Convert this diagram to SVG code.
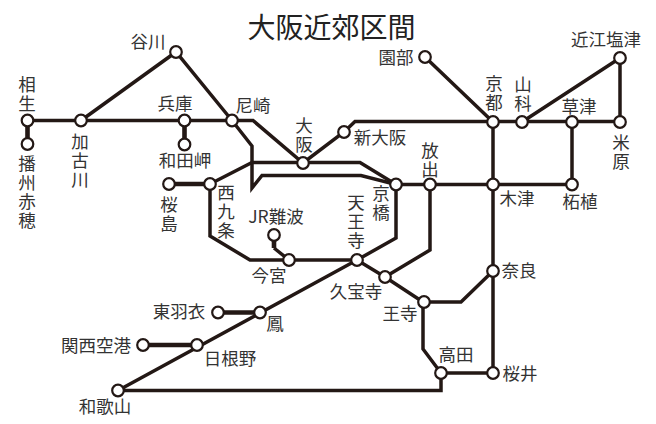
<svg xmlns="http://www.w3.org/2000/svg" width="656" height="424" viewBox="0 0 656 424">
<style>
text{font-family:"Noto Sans CJK JP","Noto Sans",sans-serif;font-size:17.500px;fill:#333;text-anchor:middle}
.v{writing-mode:vertical-rl;text-anchor:start;letter-spacing:1.300px}
.t{font-size:28px;fill:#222}
.l{fill:none;stroke:#231815;stroke-width:3.5;stroke-linejoin:miter}
.b{stroke-width:4.6}
circle{fill:#fff;stroke:#231815;stroke-width:2.2}
</style>
<rect width="656" height="424" fill="#fff"/>
<text class="t" x="331.500" y="38">大阪近郊区間</text>
<g id="connectors">
<path class="l" d="M27.500 120.500H253L303 163L344 132L355 121.500H620V58L522 122"/>
<path class="l" d="M81 120.500L176 52L232 120.500L252 146V188L262 175.500H361L396 184.500H572V122"/>
<path class="l" d="M210 184L252 162.500H360L396 184.500V238L357 260H250L210 236V184"/>
<path class="l" d="M425 57L493 122V373M274 248L289 260"/>
<path class="l" d="M357 260L118 390.500H441V373L423 349V302L385 277L357 260M385 277L430 250V184.500M424 302H461L493 271M441 373H493"/>
<path class="l b" d="M27.500 120.500V144M184.500 120.500V144.500M169 184H210M218 312.500H260M143 345H197M274 235V248"/>
</g>
<g id="n-aioi"><circle cx="27.500" cy="120.500" r="5.800"/><text class="v" x="27" y="76">相生</text></g>
<g id="n-ako"><circle cx="27.500" cy="144" r="5.800"/><text class="v" x="27" y="155">播州赤穂</text></g>
<g id="n-kakogawa"><circle cx="81" cy="120.500" r="5.800"/><text class="v" x="80" y="133">加古川</text></g>
<g id="n-tanigawa"><circle cx="176" cy="52" r="5.800"/><text x="148" y="48">谷川</text></g>
<g id="n-hyogo"><circle cx="184.500" cy="120.500" r="5.800"/><text x="175" y="110">兵庫</text></g>
<g id="n-wadamisaki"><circle cx="184.500" cy="144.500" r="5.800"/><text x="185" y="167">和田岬</text></g>
<g id="n-amagasaki"><circle cx="232" cy="120.500" r="5.800"/><text x="253" y="112">尼崎</text></g>
<g id="n-osaka"><circle cx="303" cy="163" r="5.800"/><text class="v" x="304" y="117">大阪</text></g>
<g id="n-shinosaka"><circle cx="344" cy="132" r="5.800"/><text x="380" y="144">新大阪</text></g>
<g id="n-kyoto"><circle cx="493" cy="122" r="5.800"/><text class="v" x="494" y="75">京都</text></g>
<g id="n-yamashina"><circle cx="522" cy="122" r="5.800"/><text class="v" x="523" y="76">山科</text></g>
<g id="n-kusatsu"><circle cx="572" cy="122" r="5.800"/><text x="579" y="113">草津</text></g>
<g id="n-maibara"><circle cx="620" cy="122" r="5.800"/><text class="v" x="621" y="134">米原</text></g>
<g id="n-omishiotsu"><circle cx="620" cy="58" r="5.800"/><text x="606" y="46">近江塩津</text></g>
<g id="n-sonobe"><circle cx="425" cy="57" r="5.800"/><text x="396" y="64">園部</text></g>
<g id="n-kyobashi"><circle cx="396" cy="184.500" r="5.800"/><text class="v" x="381" y="185">京橋</text></g>
<g id="n-hanaten"><circle cx="430" cy="184.500" r="5.800"/><text class="v" x="430" y="142">放出</text></g>
<g id="n-kizu"><circle cx="493" cy="184.500" r="5.800"/><text x="517" y="205">木津</text></g>
<g id="n-tsuge"><circle cx="572" cy="184.500" r="5.800"/><text x="580" y="208">柘植</text></g>
<g id="n-sakurajima"><circle cx="169" cy="184" r="5.800"/><text class="v" x="169" y="196">桜島</text></g>
<g id="n-nishikujo"><circle cx="210" cy="184" r="5.800"/><text class="v" x="226" y="184">西九条</text></g>
<g id="n-jrnamba"><circle cx="274" cy="235" r="5.800"/><text x="276" y="223">JR難波</text></g>
<g id="n-imamiya"><circle cx="289" cy="260" r="5.800"/><text x="269" y="282">今宮</text></g>
<g id="n-tennoji"><circle cx="357" cy="260" r="5.800"/><text class="v" x="356" y="194">天王寺</text></g>
<g id="n-kyuhoji"><circle cx="385" cy="277" r="5.800"/><text x="356" y="298">久宝寺</text></g>
<g id="n-oji"><circle cx="424" cy="302" r="5.800"/><text x="400" y="320">王寺</text></g>
<g id="n-nara"><circle cx="493" cy="271" r="5.800"/><text x="519" y="277">奈良</text></g>
<g id="n-takada"><circle cx="441" cy="373" r="5.800"/><text x="456" y="361">高田</text></g>
<g id="n-sakurai"><circle cx="493" cy="373" r="5.800"/><text x="520" y="380">桜井</text></g>
<g id="n-otori"><circle cx="260" cy="312.500" r="5.800"/><text x="275" y="330">鳳</text></g>
<g id="n-higashihagoromo"><circle cx="218" cy="312.500" r="5.800"/><text x="179" y="318">東羽衣</text></g>
<g id="n-hineno"><circle cx="197" cy="345" r="5.800"/><text x="230" y="365">日根野</text></g>
<g id="n-kansai"><circle cx="143" cy="345" r="5.800"/><text x="96" y="352">関西空港</text></g>
<g id="n-wakayama"><circle cx="118" cy="390.500" r="5.800"/><text x="105" y="413">和歌山</text></g>
</svg>
